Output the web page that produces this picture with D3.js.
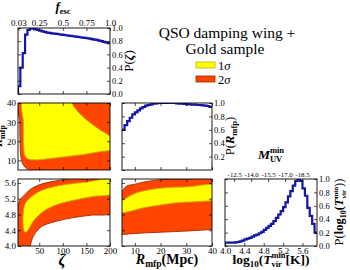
<!DOCTYPE html>
<html>
<head>
<meta charset="utf-8">
<script src="https://cdn.jsdelivr.net/npm/d3@7"></script>
<style>
body { margin: 0; background: #fff; }
svg { display: block; }
</style>
</head>
<body>
<div id="chart-area"></div>
<script>
// ---- marginal histograms (bin left edges + normalised heights) ----
var zetaBins = [5,10,15,20,25,30,35,40,45,50,55,60,65,70,75,80,85,90,95,100,
                105,110,115,120,125,130,135,140,145,150,155,160,165,170,175,180,185,190,195];
var zetaProb = [0.12,0.40,0.62,0.90,0.97,1.00,0.99,0.98,0.97,0.96,0.95,0.94,0.93,0.925,0.92,0.915,0.91,0.905,0.90,0.895,
                0.89,0.885,0.88,0.875,0.87,0.865,0.86,0.855,0.85,0.845,0.84,0.83,0.825,0.82,0.81,0.80,0.79,0.78,0.77];

var rmfpBins = [5,6,7,8,9,10,11,12,13,14,15,16,17,18,19,20,21,22,23,24,25,26,27,28,29,30,31,32,33,34,35,36,37,38,39];
var rmfpProb = [0.60,0.67,0.73,0.78,0.83,0.86,0.89,0.92,0.94,0.96,0.97,0.98,0.99,0.995,1.0,1.0,1.0,1.0,1.0,1.0,
                1.0,0.995,0.99,0.99,0.985,0.98,0.98,0.975,0.975,0.97,0.97,0.965,0.96,0.955,0.94];

var tvirBins = [4.00,4.05,4.10,4.15,4.20,4.25,4.30,4.35,4.40,4.45,4.50,4.55,4.60,4.65,4.70,4.75,4.80,4.85,4.90,
                4.95,5.00,5.05,5.10,5.15,5.20,5.25,5.30,5.35,5.40,5.45,5.50,5.55,5.60,5.65,5.70,5.75,5.80,5.85];
var tvirProb = [0.05,0.05,0.05,0.05,0.055,0.06,0.07,0.08,0.10,0.11,0.12,0.14,0.16,0.17,0.19,0.21,0.24,0.27,0.30,
                0.33,0.37,0.42,0.47,0.52,0.58,0.65,0.74,0.82,0.90,0.97,1.00,0.97,0.86,0.75,0.57,0.45,0.33,0.20];

// ---- credible region outlines (data units) ----
var zetaRmfp2s = [[8.5,42],[8.8,30],[9.3,20],[10.3,14],[12,10.5],[15,8.2],[20,6.5],[27,5],[28,3],[205,3],[205,42]];
var zetaRmfp1s = [[16.3,42],[16.4,30],[16.8,20],[17.8,15],[20,12.3],[25,11],[37,10.3],[73,11],[108,12],[143,13.1],
                  [179,14.6],[205,16],[205,21.3],[179,25.9],[151,31],[129,36.3],[119,40],[117,42]];
var zetaTvir2s = [[3,4.9],[5,5.01],[10,5.18],[16.3,5.26],[30.4,5.43],[51.6,5.56],[80,5.64],[108,5.70],[130,5.78],
                  [205,5.78],[205,4.86],[158,4.78],[122,4.72],[87,4.63],[58.7,4.52],[48,4.42],[37.5,4.25],
                  [31,4.0],[30,3.9],[3,3.9]];
var zetaTvir1s = [[15.6,4.72],[18.4,5.01],[24,5.14],[30.4,5.22],[51.6,5.39],[80,5.50],[108,5.56],[150,5.62],[205,5.675],
                  [205,5.34],[165,5.26],[122,5.16],[87,5.05],[58.7,4.88],[37.5,4.63],[27,4.42],[22,4.35],[18.4,4.37],[16,4.50]];
var rmfpTvir2s = [[4,5.35],[5,5.39],[6.8,5.52],[9.4,5.56],[13.3,5.62],[17.2,5.66],[21,5.685],[30,5.69],[42,5.695],
                  [42,4.43],[40,4.42],[30.2,4.38],[19.8,4.35],[10.7,4.32],[5,4.29],[4,4.28]];
var rmfpTvir1s = [[4,5.14],[5,5.15],[7.5,5.25],[10.7,5.35],[15.9,5.43],[22.4,5.48],[30.2,5.50],[42,5.52],
                  [42,5.15],[40,5.15],[32.8,5.12],[26.3,5.10],[19.8,5.04],[13.3,4.97],[8.1,4.88],[5,4.84],[4,4.82]];

// ---- tick values / labels ----
var probTicks = [0.0,0.2,0.4,0.6,0.8,1.0];
var fescTicks = [0.03,0.25,0.5,0.75,1.0];
var zetaTicks = [50,100,150,200];
var rmfpTicks = [10,20,30,40];
var tvirTicks = [4.0,4.4,4.8,5.2,5.6];
var muvLabels = ["-12.5","-14.0","-15.5","-17.0","-18.5"];
var muvAtTvir = [4.19,4.54,4.89,5.24,5.59];

var FONT = "Liberation Serif, DejaVu Serif, serif";
var C1 = "#ffff00", C2 = "#ff4500", E1 = "#c4b000", E2 = "#9a2a00", HIST = "#1414a6";

var svg = d3.select("#chart-area").append("svg")
    .attr("width", 350)
    .attr("height", 270);

// column / row scales
var xZeta = d3.scaleLinear().domain([5,200]).range([18,110]);
var xFesc = d3.scaleLinear().domain([0.025,1.0]).range([18,110]);
var xRmfp = d3.scaleLinear().domain([5,40]).range([122,212]);
var xTvir = d3.scaleLinear().domain([4.0,5.9]).range([225,317]);
var yP1 = d3.scaleLinear().domain([0,1]).range([94,28]);
var yRmfp = d3.scaleLinear().domain([5,40]).range([170,103]);
var yP2 = d3.scaleLinear().domain([0,1]).range([170,103]);
var yTvir = d3.scaleLinear().domain([4.0,5.7]).range([246,179]);
var yP3 = d3.scaleLinear().domain([0,1]).range([246,179]);

var clipId = 0;
function makeClip(x, y){
    var id = "clip" + (clipId++);
    svg.append("clipPath").attr("id", id).append("rect")
        .attr("x", x.range()[0]).attr("y", y.range()[1])
        .attr("width", x.range()[1]-x.range()[0])
        .attr("height", y.range()[0]-y.range()[1]);
    return "url(#" + id + ")";
}

function frame(x, y){
    svg.append("rect")
        .attr("x", x.range()[0]).attr("y", y.range()[1])
        .attr("width", x.range()[1]-x.range()[0])
        .attr("height", y.range()[0]-y.range()[1])
        .attr("fill", "none").attr("stroke", "#000").attr("stroke-width", 0.9);
}

// one side of a panel: inward ticks, optional labels
function side(gen, tx, ty, vals, fmt, size){
    var a = gen.tickValues(vals).tickSize(-3).tickPadding(2)
        .tickFormat(fmt ? fmt : function(){ return ""; });
    var g = svg.append("g").attr("transform", "translate(" + tx + "," + ty + ")").call(a);
    g.select(".domain").remove();
    g.selectAll("line").attr("stroke", "#000").attr("stroke-width", 0.7);
    g.selectAll("text").attr("font-family", FONT).attr("font-size", size || 9).attr("fill", "#000");
    return g;
}

function histogram(x, y, bins, probs, width, fromZero){
    var pts = bins.map(function(b, i){ return [b, probs[i]]; });
    pts.push([bins[bins.length-1] + width, probs[probs.length-1]]);
    if (fromZero) { pts.unshift([bins[0], 0]); }
    var line = d3.line()
        .x(function(d){ return x(d[0]); })
        .y(function(d){ return y(d[1]); })
        .curve(d3.curveStepAfter);
    svg.append("path").datum(pts)
        .attr("d", line)
        .attr("clip-path", makeClip(x, y))
        .attr("fill", "none")
        .attr("stroke", HIST)
        .attr("stroke-width", 2.2)
        .attr("stroke-linejoin", "miter");
}

function region(x, y, pts, fill, edge, clip){
    var line = d3.line()
        .x(function(d){ return x(d[0]); })
        .y(function(d){ return y(d[1]); })
        .curve(d3.curveCatmullRomClosed.alpha(0.5));
    svg.append("path").datum(pts)
        .attr("d", line)
        .attr("clip-path", clip)
        .attr("fill", fill)
        .attr("stroke", edge)
        .attr("stroke-width", 0.9);
}

var f1 = d3.format(".1f");

// ---- panel: P(zeta) ----
histogram(xZeta, yP1, zetaBins, zetaProb, 5, true);
frame(xZeta, yP1);
side(d3.axisTop(xFesc), 0, 28, fescTicks, function(d){ return d === 1 ? "1.0" : String(d); });
side(d3.axisBottom(xZeta), 0, 94, zetaTicks, null);
side(d3.axisLeft(yP1), 18, 0, probTicks, null);
side(d3.axisRight(yP1), 110, 0, probTicks, f1, 8.5);

// ---- panel: zeta vs R_mfp ----
var clipZR = makeClip(xZeta, yRmfp);
region(xZeta, yRmfp, zetaRmfp2s, C2, E2, clipZR);
region(xZeta, yRmfp, zetaRmfp1s, C1, E1, clipZR);
frame(xZeta, yRmfp);
side(d3.axisLeft(yRmfp), 18, 0, rmfpTicks, d3.format("d"));
side(d3.axisRight(yRmfp), 110, 0, rmfpTicks, null);
side(d3.axisTop(xZeta), 0, 103, zetaTicks, null);
side(d3.axisBottom(xZeta), 0, 170, zetaTicks, null);

// ---- panel: P(R_mfp) ----
histogram(xRmfp, yP2, rmfpBins, rmfpProb, 1, false);
frame(xRmfp, yP2);
side(d3.axisRight(yP2), 212, 0, probTicks.slice(1), f1, 8.5);
side(d3.axisLeft(yP2), 122, 0, probTicks, null);
side(d3.axisTop(xRmfp), 0, 103, rmfpTicks, null);
side(d3.axisBottom(xRmfp), 0, 170, rmfpTicks, null);

// ---- panel: zeta vs log Tvir ----
var clipZT = makeClip(xZeta, yTvir);
region(xZeta, yTvir, zetaTvir2s, C2, E2, clipZT);
region(xZeta, yTvir, zetaTvir1s, C1, E1, clipZT);
frame(xZeta, yTvir);
side(d3.axisLeft(yTvir), 18, 0, tvirTicks, f1);
side(d3.axisRight(yTvir), 110, 0, tvirTicks, null);
side(d3.axisBottom(xZeta), 0, 246, zetaTicks, d3.format("d"));
side(d3.axisTop(xZeta), 0, 179, zetaTicks, null);

// ---- panel: R_mfp vs log Tvir ----
var clipRT = makeClip(xRmfp, yTvir);
region(xRmfp, yTvir, rmfpTvir2s, C2, E2, clipRT);
region(xRmfp, yTvir, rmfpTvir1s, C1, E1, clipRT);
frame(xRmfp, yTvir);
side(d3.axisLeft(yTvir), 122, 0, tvirTicks, null);
side(d3.axisRight(yTvir), 212, 0, tvirTicks, null);
side(d3.axisBottom(xRmfp), 0, 246, rmfpTicks, d3.format("d"));
side(d3.axisTop(xRmfp), 0, 179, rmfpTicks, null);

// ---- panel: P(log Tvir) ----
histogram(xTvir, yP3, tvirBins, tvirProb, 0.05, false);
frame(xTvir, yP3);
side(d3.axisRight(yP3), 317, 0, probTicks, f1, 8.5);
side(d3.axisLeft(yP3), 225, 0, probTicks, null);
side(d3.axisBottom(xTvir), 0, 246, tvirTicks, f1);
side(d3.axisTop(xTvir), 0, 179, muvAtTvir, function(d, i){ return muvLabels[i]; }, 6.8);

// ---- text labels ----
function label(x, y, size, rotate, anchor){
    var t = svg.append("text")
        .attr("font-family", FONT)
        .attr("font-size", size)
        .attr("font-weight", "bold")
        .attr("text-anchor", anchor || "middle")
        .attr("fill", "#000");
    if (rotate) { t.attr("transform", "translate(" + x + "," + y + ") rotate(-90)"); }
    else { t.attr("x", x).attr("y", y); }
    return t;
}
function part(t, s, opt){
    opt = opt || {};
    var ts = t.append("tspan").text(s);
    if (opt.italic) ts.attr("font-style", "italic");
    if (opt.normal) ts.attr("font-weight", "normal");
    if (opt.size) ts.attr("font-size", opt.size);
    if (opt.dy) ts.attr("dy", opt.dy);
    if (opt.dx) ts.attr("dx", opt.dx);
    return ts;
}
// sub + sup stacked after current position
function subsup(t, sub, sup, size, dn, up){
    var a = part(t, sup, {size: size, dy: -up});
    var w = a.node().getComputedTextLength();
    var b = part(t, sub, {size: size, dy: up + dn, dx: -w});
    var w2 = b.node().getComputedTextLength();
    var rest = Math.max(0, w - w2);
    return {after: -dn, pad: rest};
}

var t, s;
t = label(63, 11, 13);
part(t, "f", {italic: true});
part(t, "esc", {size: 8.5, dy: 2.5});

t = label(62, 265, 16);
part(t, "\u03b6", {italic: true});

t = label(167, 264, 14);
part(t, "R", {italic: true});
part(t, "mfp", {size: 9.5, dy: 2.5});
part(t, "(Mpc)", {dy: -2.5});

t = label(271, 264, 13.5);
part(t, "log");
part(t, "10", {size: 9, dy: 2.5});
part(t, "(", {dy: -2.5});
part(t, "T", {italic: true});
s = subsup(t, "vir", "min", 8.5, 2.5, 6);
part(t, "[K])", {dy: s.after, dx: s.pad});

t = label(271, 159, 13.5);
part(t, "M", {italic: true});
s = subsup(t, "UV", "min", 8.5, 3, 6);

t = label(133, 61, 13, true);
part(t, "P(", {normal: true});
part(t, "\u03b6", {italic: true});
part(t, ")", {normal: true});

t = label(234, 136, 12.5, true);
part(t, "P(", {normal: true});
part(t, "R", {italic: true});
part(t, "mfp", {size: 8.5, dy: 3});
part(t, ")", {normal: true, dy: -3});

t = label(2, 136, 12, true);
part(t, "R", {italic: true});
part(t, "mfp", {size: 8, dy: 3});

t = label(343, 212, 12.5, true);
part(t, "P(", {normal: true});
part(t, "log");
part(t, "10", {size: 8, dy: 3});
part(t, "(", {dy: -3});
part(t, "T", {italic: true});
s = subsup(t, "vir", "min", 7, 3, 5);
part(t, "))", {normal: true, dy: s.after, dx: s.pad});

// ---- title and legend ----
svg.append("text").attr("x", 227).attr("y", 38)
    .attr("font-family", FONT).attr("font-size", 15.5).attr("text-anchor", "middle")
    .text("QSO damping wing +");
svg.append("text").attr("x", 225).attr("y", 54)
    .attr("font-family", FONT).attr("font-size", 15.5).attr("text-anchor", "middle")
    .text("Gold sample");

var legendItems = [{sym: "1", fill: C1, edge: E1}, {sym: "2", fill: C2, edge: E2}];
var lg = svg.selectAll(".lg").data(legendItems).enter().append("g")
    .attr("class", "lg")
    .attr("transform", function(d, i){ return "translate(196," + (62 + i * 14) + ")"; });
lg.append("rect").attr("width", 19).attr("height", 6)
    .attr("fill", function(d){ return d.fill; })
    .attr("stroke", function(d){ return d.edge; }).attr("stroke-width", 0.8);
var lt = lg.append("text").attr("x", 22).attr("y", 7.5)
    .attr("font-family", FONT).attr("font-size", 12.5);
lt.append("tspan").text(function(d){ return d.sym; });
lt.append("tspan").attr("font-style", "italic").text("\u03c3");
</script>
</body>
</html>
